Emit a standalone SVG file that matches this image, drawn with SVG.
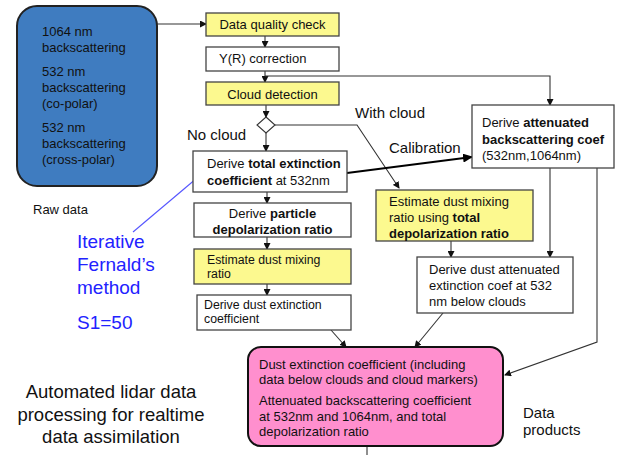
<svg xmlns="http://www.w3.org/2000/svg" width="617" height="455" viewBox="0 0 617 455">
<defs>
<marker id="ah" markerWidth="7" markerHeight="7" refX="6" refY="3.5" orient="auto" markerUnits="userSpaceOnUse">
<path d="M0,0 L7,3.5 L0,7 Z" fill="#111"/>
</marker>
<marker id="ahb" markerWidth="10" markerHeight="9" refX="9" refY="4.5" orient="auto" markerUnits="userSpaceOnUse">
<path d="M0,0 L10,4.5 L0,9 Z" fill="#000"/>
</marker>
</defs>
<style>
text{font-family:"Liberation Sans",Arial,sans-serif;fill:#111;}
.box{fill:#fff;stroke:#444;stroke-width:1.3;}
.yel{fill:#fcf98f;stroke:#444;stroke-width:1.3;}
.t13{font-size:13px;}
.t12{font-size:12.3px;}
.b{font-weight:bold;}
.lbl{font-size:15px;}
.con{fill:none;stroke:#333;stroke-width:1.1;}
.blue{fill:#2222ff;font-size:19px;}
</style>
<rect width="617" height="455" fill="#fff"/>

<g id="connectors">
<line class="con" x1="157" y1="24" x2="206" y2="24" marker-end="url(#ah)"/>
<line class="con" x1="265" y1="36" x2="265" y2="47" marker-end="url(#ah)"/>
<line class="con" x1="265" y1="71" x2="265" y2="82" marker-end="url(#ah)"/>
<polyline class="con" points="265,76 550,76 550,105" marker-end="url(#ah)"/>
<line class="con" x1="266" y1="105" x2="266" y2="117" marker-end="url(#ah)"/>
<line class="con" x1="266" y1="133" x2="266" y2="151" marker-end="url(#ah)"/>
<polyline class="con" points="275,125 357,125 399,188" marker-end="url(#ah)"/>
<line x1="347" y1="173" x2="472" y2="157" stroke="#000" stroke-width="2.2" marker-end="url(#ahb)"/>
<line class="con" x1="267" y1="192" x2="267" y2="203" marker-end="url(#ah)"/>
<line class="con" x1="267" y1="237" x2="267" y2="249" marker-end="url(#ah)"/>
<line class="con" x1="267" y1="284" x2="267" y2="295" marker-end="url(#ah)"/>
<line class="con" x1="451" y1="241" x2="451" y2="257" marker-end="url(#ah)"/>
<line class="con" x1="550" y1="168" x2="550" y2="257" marker-end="url(#ah)"/>
<polyline class="con" points="597,168 597,342 505,375" marker-end="url(#ah)"/>
<line class="con" x1="331" y1="330" x2="346" y2="347" marker-end="url(#ah)"/>
<line class="con" x1="443" y1="313" x2="415" y2="347" marker-end="url(#ah)"/>
<line class="con" x1="367" y1="446" x2="367" y2="455"/>
<line x1="133" y1="232" x2="197" y2="178" stroke="#5555ff" stroke-width="1.1"/>
</g>

<g id="raw">
<rect x="17" y="6" width="140" height="180" rx="20" fill="#3f7cc0" stroke="#222" stroke-width="2"/>
<text class="t13" x="42" y="36">1064 nm</text>
<text class="t13" x="42" y="52">backscattering</text>
<text class="t13" x="42" y="76">532 nm</text>
<text class="t13" x="42" y="92">backscattering</text>
<text class="t13" x="42" y="108">(co-polar)</text>
<text class="t13" x="42" y="132">532 nm</text>
<text class="t13" x="42" y="148">backscattering</text>
<text class="t13" x="42" y="164">(cross-polar)</text>
</g>
<g id="rawlabel"><text class="t13" x="33" y="214">Raw data</text></g>

<g id="dqc">
<rect class="yel" x="206" y="13" width="133" height="23"/>
<text class="t13" x="272.5" y="29" text-anchor="middle">Data quality check</text>
</g>
<g id="yr">
<rect class="box" x="206" y="47" width="133" height="24"/>
<text class="t13" x="219" y="63">Y(R) correction</text>
</g>
<g id="cloud">
<rect class="yel" x="206" y="82" width="133" height="23"/>
<text class="t13" x="272.5" y="99" text-anchor="middle">Cloud detection</text>
</g>
<g id="diamond">
<polygon points="266,117 275,125 266,133 257,125" fill="#fff" stroke="#333" stroke-width="1.1"/>
</g>
<g id="labels">
<text class="lbl" x="187" y="140">No cloud</text>
<text class="lbl" x="355" y="118">With cloud</text>
<text class="lbl" x="389" y="153">Calibration</text>
</g>

<g id="totext">
<rect class="box" x="193" y="151" width="154" height="41"/>
<text class="t13" x="207" y="168">Derive <tspan class="b">total extinction</tspan></text>
<text class="t13" x="207" y="185"><tspan class="b">coefficient</tspan> at 532nm</text>
</g>
<g id="atten">
<rect class="box" x="472" y="105" width="142" height="63"/>
<text class="t13" x="482" y="127">Derive <tspan class="b">attenuated</tspan></text>
<text class="t13 b" x="482" y="144">backscattering coef</text>
<text class="t13" x="482" y="160">(532nm,1064nm)</text>
</g>
<g id="particle">
<rect class="box" x="194" y="203" width="157" height="34"/>
<text class="t13" x="272.5" y="218" text-anchor="middle">Derive <tspan class="b">particle</tspan></text>
<text class="t13 b" x="272.5" y="234" text-anchor="middle">depolarization ratio</text>
</g>
<g id="estmix">
<rect class="yel" x="194" y="249" width="157" height="35"/>
<text class="t12" x="207" y="264">Estimate dust mixing</text>
<text class="t12" x="207" y="278">ratio</text>
</g>
<g id="dustext">
<rect class="box" x="197" y="295" width="154" height="35"/>
<text class="t12" x="204" y="309">Derive dust extinction</text>
<text class="t12" x="204" y="323">coefficient</text>
</g>
<g id="esttot">
<rect class="yel" x="376" y="190" width="157" height="51"/>
<text class="t13" x="389" y="206">Estimate dust mixing</text>
<text class="t13" x="389" y="222">ratio using <tspan class="b">total</tspan></text>
<text class="t13 b" x="389" y="238">depolarization ratio</text>
</g>
<g id="dustatt">
<rect class="box" x="417" y="257" width="156" height="56"/>
<text class="t13" x="429" y="274">Derive dust attenuated</text>
<text class="t13" x="429" y="290">extinction coef at 532</text>
<text class="t13" x="429" y="306">nm below clouds</text>
</g>
<g id="products">
<rect x="248" y="347" width="255" height="99" rx="13" fill="#ff8fce" stroke="#111" stroke-width="2"/>
<text class="t13" x="259" y="369">Dust extinction coefficient (including</text>
<text class="t13" x="259" y="384">data below clouds and cloud markers)</text>
<text class="t13" x="259" y="405">Attenuated backscattering coefficient</text>
<text class="t13" x="259" y="421">at 532nm and 1064nm, and total</text>
<text class="t13" x="259" y="436">depolarization ratio</text>
</g>
<g id="prodlabel">
<text class="lbl" x="523" y="418">Data</text>
<text class="lbl" x="523" y="435">products</text>
</g>
<g id="fernald">
<text class="blue" x="77" y="248">Iterative</text>
<text class="blue" x="77" y="271">Fernald’s</text>
<text class="blue" x="77" y="294">method</text>
<text class="blue" x="77" y="329">S1=50</text>
</g>
<g id="title">
<text x="111" y="398" text-anchor="middle" font-size="18.5">Automated lidar data</text>
<text x="111" y="421" text-anchor="middle" font-size="18.5">processing for realtime</text>
<text x="111" y="443" text-anchor="middle" font-size="18.5">data assimilation</text>
</g>
</svg>
